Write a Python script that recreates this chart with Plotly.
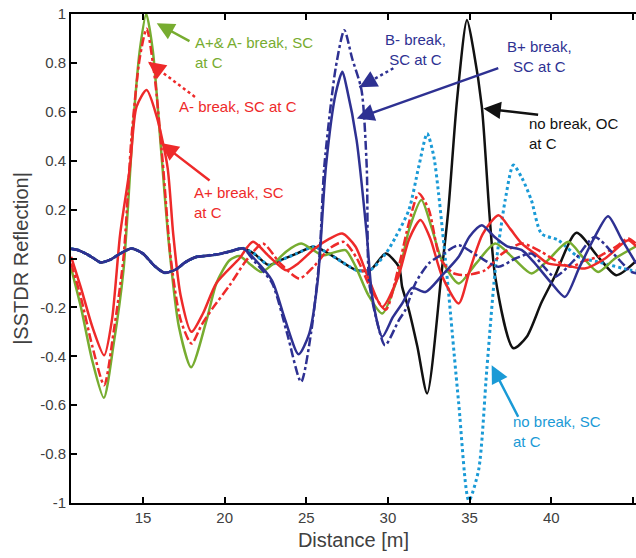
import plotly.graph_objects as go

# ---------------- data ----------------
base_x = [10.6, 11.0, 11.5, 12.0, 12.4, 13.0, 13.6, 14.3, 15.0, 15.7, 16.3, 17.0, 17.6, 18.3, 19.0, 19.8, 20.5, 21.1]
base_y = [0.04, 0.035, 0.02, 0.0, -0.016, -0.005, 0.02, 0.041, 0.02, -0.03, -0.058, -0.045, -0.015, 0.007, 0.012, 0.02, 0.032, 0.042]

black_x = base_x + [21.8, 22.7, 23.5, 24.4, 25.43, 26.0, 26.86, 28.08, 28.9, 29.86, 30.67, 30.87, 31.28, 31.8, 32.4,
                    33.3, 33.7, 34.23, 34.84, 35.24, 35.75, 36.57, 37.68, 38.5, 39.4, 40.2, 41.54, 42.87, 43.98, 45.2]
black_y = base_y + [0.02, -0.027, -0.005, 0.02, 0.048, 0.034, 0.0, -0.048, -0.048, 0.02, -0.034, -0.116, -0.21, -0.36, -0.552,
                    -0.048, 0.2, 0.648, 0.975, 0.852, 0.62, -0.075, -0.367, -0.32, -0.18, -0.075, 0.105, 0.007, -0.068, -0.01]

cyan_x = base_x + [21.8, 22.7, 23.5, 24.4, 25.43, 26.0, 26.86, 28.08, 28.9, 29.86, 30.47, 31.28, 31.9, 32.4, 32.8, 33.1,
                   33.5, 33.7, 34.33, 34.95, 35.55, 36.05, 36.57, 37.18, 37.68, 38.2, 38.78, 39.4, 40.43, 41.65, 42.87, 44.88, 45.2]
cyan_y = base_y + [0.02, -0.027, -0.005, 0.02, 0.048, 0.034, 0.0, -0.048, -0.048, 0.02, 0.088, 0.198, 0.38, 0.511, 0.42, 0.266,
                   0.007, -0.13, -0.59, -0.99, -0.866, -0.457, -0.048, 0.239, 0.382, 0.33, 0.239, 0.102, 0.075, 0.007, -0.014, -0.048, -0.05]

green_x = [10.6, 11.2, 11.9, 12.6, 13.2, 13.8, 14.4, 14.8, 15.2, 15.6, 16.1, 16.6, 17.2, 17.95, 18.9, 19.5, 20.3, 20.9, 21.5,
           22.24, 23.0, 23.8, 24.68, 25.3, 26.0, 26.7, 27.4, 28.0, 28.8, 29.65, 30.67, 31.3, 32.05, 32.7, 33.3, 34.33, 35.4,
           36.57, 37.7, 38.8, 39.9, 41.04, 42.0, 42.87, 43.9, 45.2]
green_y = [-0.04, -0.2, -0.42, -0.57, -0.35, -0.05, 0.55, 0.85, 1.0, 0.85, 0.45, 0.05, -0.28, -0.445, -0.25, -0.1, -0.007, 0.01, -0.02,
           -0.055, -0.02, 0.03, 0.061, 0.04, 0.013, 0.025, 0.034, -0.03, -0.15, -0.225, -0.06, 0.12, 0.239, 0.12, -0.007, -0.102, -0.02,
           0.061, 0.0, -0.061, 0.0, 0.068, 0.0, -0.055, 0.0, 0.05]

redd_x = [10.6, 11.2, 11.9, 12.62, 13.2, 13.8, 14.3, 14.8, 15.22, 15.7, 16.2, 16.7, 17.3, 17.97, 18.6, 19.3, 20.3, 21.3, 22.34,
          23.4, 24.57, 25.5, 26.4, 27.3, 28.1, 29.0, 29.86, 30.6, 31.3, 31.89, 32.5, 33.2, 34.0, 34.74, 35.95, 37.0, 38.2, 39.4,
          40.3, 41.24, 42.0, 42.87, 44.0, 44.7, 45.2]
redd_y = [-0.02, -0.16, -0.36, -0.518, -0.3, 0.0, 0.5, 0.82, 0.94, 0.75, 0.4, 0.0, -0.25, -0.348, -0.27, -0.2, -0.11, -0.01, 0.061,
          -0.02, -0.082, -0.03, 0.04, 0.068, 0.0, -0.13, -0.21, -0.05, 0.15, 0.266, 0.2, 0.0, -0.06, -0.068, -0.048, 0.02, 0.061, 0.027,
          -0.01, -0.034, -0.01, 0.007, 0.05, 0.082, 0.06]

reds_x = [10.6, 11.2, 11.9, 12.62, 13.1, 13.6, 14.2, 14.6, 15.22, 15.84, 16.5, 16.85, 17.3, 17.97, 18.67, 19.5, 20.9, 21.73, 22.7,
          23.76, 24.5, 25.5, 26.4, 27.2, 28.0, 28.8, 29.65, 30.6, 31.3, 31.99, 32.6, 33.3, 34.33, 35.0, 35.8, 36.77, 37.5, 38.2,
          39.0, 39.8, 41.0, 42.05, 43.3, 44.7, 45.2]
reds_y = [0.007, -0.12, -0.28, -0.396, -0.25, 0.1, 0.374, 0.62, 0.689, 0.58, 0.374, 0.1, -0.15, -0.3, -0.225, -0.1, 0.0, 0.068, 0.01,
          -0.048, -0.02, 0.04, 0.08, 0.102, 0.05, -0.08, -0.198, -0.08, 0.08, 0.157, 0.08, -0.07, -0.184, -0.05, 0.1, 0.177, 0.12, 0.061,
          0.02, -0.02, -0.03, -0.041, 0.0, 0.075, 0.05]

blued_x = base_x + [21.8, 22.9, 23.8, 24.68, 25.3, 25.8, 26.1, 26.8, 27.33, 27.8, 28.38, 28.7, 28.84, 29.3, 29.82, 30.67, 31.07,
                    31.69, 32.5, 33.4, 34.33, 35.5, 36.77, 37.8, 38.8, 39.5, 40.22, 41.5, 42.66, 43.8, 44.9, 45.2]
blued_y = base_y + [-0.01, -0.1, -0.3, -0.505, -0.3, 0.0, 0.375, 0.78, 0.934, 0.82, 0.689, 0.375, -0.09, -0.25, -0.355, -0.252, -0.21,
                    -0.1, -0.02, 0.02, 0.054, 0.01, -0.034, 0.0, 0.02, -0.03, -0.075, 0.0, 0.088, 0.02, -0.055, -0.06]

blues_x = base_x + [21.8, 22.9, 23.7, 24.53, 25.18, 25.7, 26.2, 26.8, 27.21, 27.47, 28.08, 28.7, 29.04, 29.65, 30.3, 30.87, 31.48,
                    32.3, 33.3, 34.33, 35.0, 35.75, 36.5, 37.3, 38.2, 39.0, 40.0, 40.84, 41.7, 42.6, 43.48, 44.3, 45.2]
blues_y = base_y + [0.0, -0.09, -0.25, -0.392, -0.307, -0.09, 0.375, 0.675, 0.764, 0.70, 0.484, 0.1, -0.157, -0.32, -0.24, -0.184, -0.12,
                    -0.137, -0.07, 0.007, 0.09, 0.136, 0.09, 0.05, 0.034, -0.02, -0.1, -0.157, -0.04, 0.08, 0.173, 0.08, -0.02]

x_range = [10.59, 45.19]
y_range = [-1, 1]
y_ticks = [-1, -0.8, -0.6, -0.4, -0.2, 0, 0.2, 0.4, 0.6, 0.8, 1]
y_ticktext = ["-1", "-0.8", "-0.6", "-0.4", "-0.2", "0", "0.2", "0.4", "0.6", "0.8", "1"]
x_ticks = [15, 20, 25, 30, 35, 40, 45]

# ---------------- styling ----------------
GREEN = "#77AC30"
RED = "#EE2A2A"
BLUE = "#2E3192"
CYAN = "#1A9AD6"
BLACK = "#111111"
FONT = "Liberation Sans, Arial, sans-serif"
AX = "#404040"
AXLINE = "black"

fig = go.Figure()

def add(x, y, color, dash, width, name):
    fig.add_trace(go.Scatter(x=x, y=y, mode="lines", name=name,
                             line=dict(color=color, dash=dash, width=width,
                                       shape="spline", smoothing=0.7)))

add(black_x, black_y, BLACK, "solid", 2.5, "no break, OC at C")
add(cyan_x, cyan_y, CYAN, "dot", 3, "no break, SC at C")
add(green_x, green_y, GREEN, "solid", 2.5, "A+& A- break, SC at C")
add(redd_x, redd_y, RED, "dashdot", 2.5, "A- break, SC at C")
add(reds_x, reds_y, RED, "solid", 2.5, "A+ break, SC at C")
add(blued_x, blued_y, BLUE, "dashdot", 2.5, "B- break, SC at C")
add(blues_x, blues_y, BLUE, "solid", 2.5, "B+ break, SC at C")

# arrows: head (x, y), tail (x, y), colour, dotted?
arrows = [
    ((15.84, 0.962), (18.06, 0.881), GREEN, False),
    ((15.31, 0.805), (18.18, 0.661), RED, True),
    ((16.10, 0.472), (19.29, 0.308), RED, False),
    ((28.25, 0.700), (30.33, 0.778), BLUE, True),
    ((28.09, 0.573), (36.97, 0.784), BLUE, False),
    ((35.84, 0.614), (39.41, 0.586), BLACK, False),
    ((36.35, -0.437), (38.19, -0.675), CYAN, False),
]
for (hx, hy), (tx_, ty_), col, dotted in arrows:
    if dotted:
        fig.add_shape(type="line", xref="x", yref="y", x0=tx_, y0=ty_, x1=hx, y1=hy,
                      line=dict(color=col, width=2.5, dash="dot"))
        f = 0.25
        ax_, ay_ = hx + (tx_ - hx) * f, hy + (ty_ - hy) * f
    else:
        ax_, ay_ = tx_, ty_
    fig.add_annotation(x=hx, y=hy, ax=ax_, ay=ay_, xref="x", yref="y", axref="x", ayref="y",
                       text=" ", showarrow=True, arrowhead=2, arrowsize=1.4, arrowwidth=2.5,
                       arrowcolor=col)

labels = [
    ("A+& A- break, SC<br>at C", 18.06, 0.844, GREEN, "left"),
    ("A- break, SC at C", 17.08, 0.620, RED, "left"),
    ("A+ break, SC<br>at C", 17.98, 0.228, RED, "left"),
    ("B- break,<br>SC at C", 31.66, 0.855, BLUE, "center"),
    ("B+ break,<br>SC at C", 39.31, 0.826, BLUE, "center"),
    ("no break, OC<br>at C", 38.53, 0.513, BLACK, "left"),
    ("no break, SC<br>at C", 37.53, -0.708, CYAN, "left"),
]
for txt, x, y, col, al in labels:
    fig.add_annotation(x=x, y=y, xref="x", yref="y", text=txt, showarrow=False,
                       xanchor=al, yanchor="middle", align=al,
                       font=dict(family=FONT, size=15, color=col))

fig.update_layout(
    width=636, height=558,
    margin=dict(l=71, r=0, t=14, b=55, autoexpand=False),
    plot_bgcolor="white", paper_bgcolor="white",
    showlegend=False,
    font=dict(family=FONT, size=15, color=AX),
    xaxis=dict(range=x_range, tickvals=x_ticks, ticks="inside", ticklen=6, tickwidth=2,
               tickcolor=AXLINE, showline=True, linecolor=AXLINE, linewidth=2, mirror="ticks",
               showgrid=False, zeroline=False,
               title=dict(text="Distance [m]", font=dict(size=20, color=AX), standoff=8),
               tickfont=dict(size=15, color=AX)),
    yaxis=dict(range=y_range, tickvals=y_ticks, ticktext=y_ticktext, ticks="inside", ticklen=6,
               tickwidth=2, tickcolor=AXLINE, showline=True, linecolor=AXLINE, linewidth=2, mirror=False,
               showgrid=False, zeroline=False,
               title=dict(text="|SSTDR Reflection|", font=dict(size=20, color=AX), standoff=6),
               tickfont=dict(size=15, color=AX)),
)

fig.write_html("out.html", config={"displayModeBar": False},
               post_script="document.body.style.margin='0px';document.body.style.overflow='hidden';")
